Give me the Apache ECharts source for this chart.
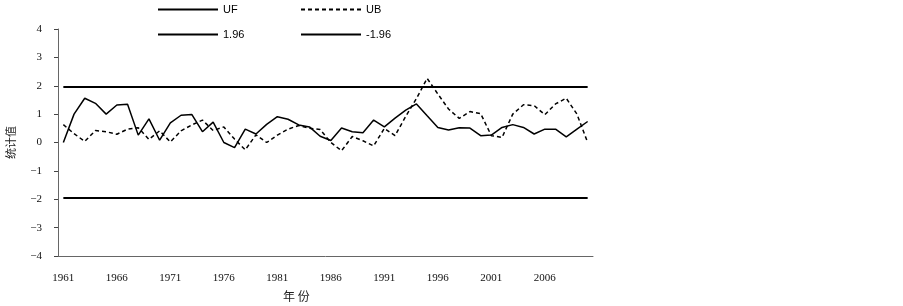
<!DOCTYPE html>
<html>
<head>
<meta charset="utf-8">
<script src="https://cdn.jsdelivr.net/npm/echarts@6/dist/echarts.min.js"></script>
<style>html,body{margin:0;padding:0;background:#fff;}#c{width:903px;height:306px;}</style>
</head>
<body>
<div id="c"></div>
<script>
const years = [];
for (let y = 1961; y <= 2010; y++) years.push(String(y));

const UF = [0.0,1.0,1.56,1.38,1.0,1.32,1.35,0.26,0.83,0.08,
            0.69,0.96,0.99,0.38,0.72,0.0,-0.18,0.47,0.3,0.64,
            0.91,0.82,0.62,0.55,0.22,0.07,0.51,0.38,0.34,0.79,
            0.55,0.86,1.14,1.36,0.94,0.53,0.44,0.52,0.51,0.24,
            0.26,0.53,0.63,0.53,0.3,0.47,0.47,0.2,0.47,0.74];
const UB = [0.63,0.31,0.04,0.42,0.38,0.29,0.47,0.52,0.11,0.41,
            0.02,0.41,0.62,0.79,0.42,0.55,0.12,-0.26,0.27,0.0,
            0.26,0.47,0.6,0.5,0.46,0.0,-0.29,0.21,0.06,-0.12,
            0.5,0.24,0.92,1.55,2.26,1.71,1.18,0.85,1.09,1.02,
            0.24,0.18,1.0,1.33,1.3,0.98,1.36,1.56,1.0,0.0];
const upperValue = 1.96;
const lowerValue = -1.96;
const upper = years.map(() => upperValue);
const lower = years.map(() => lowerValue);

const seriesNames = ['UF', 'UB', '1.96', '-1.96'];
const yName = '统计值';
const xName = '年 份';

const chart = echarts.init(document.getElementById('c'), null, {renderer: 'canvas'});
const legendText = {fontFamily: '"Liberation Sans", Arial, sans-serif', fontSize: 11, color: '#000'};
function mkLegend(name, left, top) {
  return {data: [name], left: left, top: top, padding: 0, itemWidth: 60, itemHeight: 12,
          itemStyle: {opacity: 0, borderWidth: 0},
          textStyle: legendText, selectedMode: false};
}
chart.setOption({
  animation: false,
  backgroundColor: '#fff',
  legend: [
    mkLegend(seriesNames[0], 157, 4),
    mkLegend(seriesNames[1], 300, 4),
    mkLegend(seriesNames[2], 157, 29),
    mkLegend(seriesNames[3], 300, 29)
  ],
  grid: {left: 58, right: 310, top: 29, bottom: 50, containLabel: false, outerBoundsMode: 'none'},
  xAxis: {
    type: 'category',
    data: years,
    boundaryGap: true,
    axisLine: {onZero: false, lineStyle: {color: '#666', width: 1}},
    axisTick: {inside: true, length: 4, interval: 0, lineStyle: {color: '#444'}},
    axisLabel: {interval: 4, margin: 17, color: '#111', fontSize: 11,
                fontFamily: '"Liberation Serif", "DejaVu Serif", serif'},
    splitLine: {show: false}
  },
  yAxis: {
    type: 'value',
    min: -4, max: 4, interval: 1,
    name: yName,
    nameLocation: 'middle',
    nameGap: 42,
    nameTextStyle: {fontFamily: '"Noto Sans CJK SC", sans-serif', fontSize: 11, color: '#222'},
    axisLine: {show: true, lineStyle: {color: '#666', width: 1}},
    axisTick: {show: true, length: 4, lineStyle: {color: '#444'}},
    axisLabel: {margin: 16, color: '#111', fontSize: 11,
                fontFamily: '"Liberation Serif", "DejaVu Serif", serif',
                formatter: v => String(v).replace('-', '\u2212')},
    splitLine: {show: false}
  },
  graphic: [{
    type: 'text', left: 283, top: 290,
    style: {text: xName, fontFamily: '"Noto Sans CJK SC", sans-serif', fontSize: 12, fill: '#222'}
  }],
  series: [
    {name: seriesNames[0], type: 'line', data: UF, symbol: 'none',
     lineStyle: {color: '#000', width: 1.5}, itemStyle: {color: '#000'}},
    {name: seriesNames[1], type: 'line', data: UB, symbol: 'none',
     lineStyle: {color: '#000', width: 1.5, type: [4, 3]}, itemStyle: {color: '#000'}},
    {name: seriesNames[2], type: 'line', data: upper, symbol: 'none',
     lineStyle: {color: '#000', width: 2}, itemStyle: {color: '#000'}},
    {name: seriesNames[3], type: 'line', data: lower, symbol: 'none',
     lineStyle: {color: '#000', width: 2}, itemStyle: {color: '#000'}}
  ]
});
</script>
</body>
</html>
